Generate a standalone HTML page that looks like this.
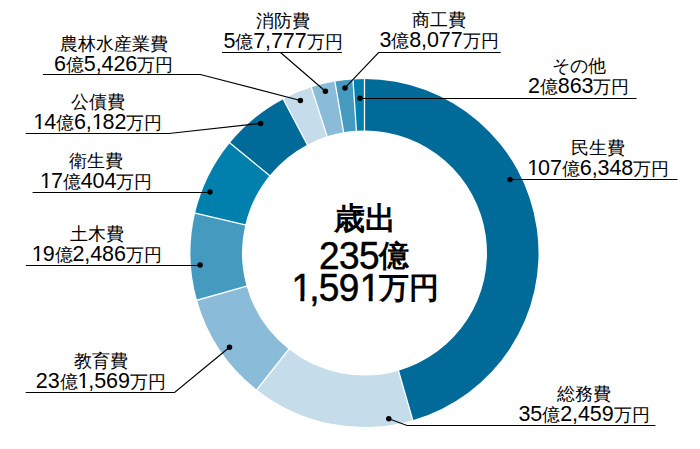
<!DOCTYPE html>
<html lang="ja">
<head>
<meta charset="utf-8">
<style>
html,body{margin:0;padding:0;background:#fff;}
body{width:700px;height:449px;position:relative;overflow:hidden;font-family:"Liberation Sans",sans-serif;color:#000;}
svg{position:absolute;left:0;top:0;}
.lb{position:absolute;width:200px;text-align:center;white-space:nowrap;}
.lb .t{font-size:17.5px;line-height:21px;height:21px;}
.lb .n{font-size:17.5px;line-height:21px;height:21px;}
.lb .n b{font-weight:normal;font-size:21.5px;letter-spacing:-0.1px;line-height:0;}
.lb .o{margin-right:-1px;}
.o{clip-path:polygon(-0.3em -0.3em,0.9em -0.3em,0.9em 0.775em,0.345em 0.775em,0.345em 1.4em,0.24em 1.4em,0.24em 0.775em,-0.3em 0.775em);}
.ctr{position:absolute;left:264px;width:200px;text-align:center;white-space:nowrap;font-weight:bold;}
.ctr b{display:inline-block;transform:scaleY(1.04);transform-origin:50% 84.65%;font-weight:normal;font-size:37px;line-height:1;position:relative;top:3px;letter-spacing:-0.6px;-webkit-text-stroke:0.5px #000;}
</style>
</head>
<body>
<svg width="700" height="449" viewBox="0 0 700 449">
<path fill="#006a99" d="M364.50 79.00A174 174 0 0 1 412.75 420.18L398.47 370.70A122.5 122.5 0 0 0 364.50 130.50Z"/>
<path fill="#c5dcea" d="M412.75 420.18A174 174 0 0 1 256.90 389.74L288.74 349.27A122.5 122.5 0 0 0 398.47 370.70Z"/>
<path fill="#8abbd9" d="M256.90 389.74A174 174 0 0 1 197.03 300.23L246.60 286.25A122.5 122.5 0 0 0 288.74 349.27Z"/>
<path fill="#449bbf" d="M197.03 300.23A174 174 0 0 1 195.13 213.12L245.26 224.92A122.5 122.5 0 0 0 246.60 286.25Z"/>
<path fill="#0180ad" d="M195.13 213.12A174 174 0 0 1 229.76 142.91L269.64 175.49A122.5 122.5 0 0 0 245.26 224.92Z"/>
<path fill="#006a99" d="M229.76 142.91A174 174 0 0 1 283.21 99.15L307.27 144.69A122.5 122.5 0 0 0 269.64 175.49Z"/>
<path fill="#c5dcea" d="M283.21 99.15A174 174 0 0 1 311.31 87.33L327.05 136.36A122.5 122.5 0 0 0 307.27 144.69Z"/>
<path fill="#8abbd9" d="M311.31 87.33A174 174 0 0 1 334.88 81.54L343.65 132.29A122.5 122.5 0 0 0 327.05 136.36Z"/>
<path fill="#449bbf" d="M334.88 81.54A174 174 0 0 1 352.97 79.38L356.38 130.77A122.5 122.5 0 0 0 343.65 132.29Z"/>
<path fill="#0180ad" d="M352.97 79.38A174 174 0 0 1 364.50 79.00L364.50 130.50A122.5 122.5 0 0 0 356.38 130.77Z"/>
<path stroke="#fff" stroke-width="1.3" d="M364.50 131.50L364.50 78.00M398.19 369.73L413.03 421.14M289.36 348.48L256.28 390.52M247.56 285.98L196.07 300.50M246.23 225.15L194.16 212.89M270.41 176.13L228.98 142.28M307.74 145.57L282.75 98.27M327.36 137.32L311.00 86.38M343.82 133.27L334.71 80.55M356.45 131.77L352.90 78.38"/>
<g fill="none" stroke="#000" stroke-width="1.15">
<path d="M510 179.5H677.4"/>
<path d="M388.8 418.8L407 425.5H655.4"/>
<path d="M229.5 347.3L174.6 392.5H25.7"/>
<path d="M200.1 265.5H26"/>
<path d="M210 192.5H32.6"/>
<path d="M260.6 123.4L168.9 133.5H25.7"/>
<path d="M300.4 100.5L200.3 74.5H42.9"/>
<path d="M325.4 91.2L280.5 52.5M222 52.5H341.9"/>
<path d="M345 87.9L378.6 52.5H500.7"/>
<path d="M360 98.5H636.5"/>
</g>
<g fill="#000">
<circle cx="510" cy="179.5" r="2.75"/>
<circle cx="388.8" cy="418.8" r="2.75"/>
<circle cx="229.5" cy="347.3" r="2.75"/>
<circle cx="200.1" cy="265.1" r="2.75"/>
<circle cx="210" cy="192" r="2.75"/>
<circle cx="260.6" cy="123.4" r="2.75"/>
<circle cx="300.4" cy="100.5" r="2.75"/>
<circle cx="325.4" cy="91.2" r="2.75"/>
<circle cx="345" cy="87.9" r="2.75"/>
<circle cx="360" cy="98.3" r="2.75"/>
</g>
</svg>
<div class="lb" style="left:498.2px;top:138.0px"><div class="t">民生費</div><div class="n"><b><span class="o">1</span>07</b>億<b>6,348</b>万円</div></div>
<div class="lb" style="left:484.0px;top:384.0px"><div class="t">総務費</div><div class="n"><b>35</b>億<b>2,459</b>万円</div></div>
<div class="lb" style="left:0.8px;top:351.0px"><div class="t">教育費</div><div class="n"><b>23</b>億<b><span class="o">1</span>,569</b>万円</div></div>
<div class="lb" style="left:-3.2px;top:224.0px"><div class="t">土木費</div><div class="n"><b><span class="o">1</span>9</b>億<b>2,486</b>万円</div></div>
<div class="lb" style="left:-3.8px;top:151.0px"><div class="t">衛生費</div><div class="n"><b><span class="o">1</span>7</b>億<b>404</b>万円</div></div>
<div class="lb" style="left:-2.2px;top:92.0px"><div class="t">公債費</div><div class="n"><b><span class="o">1</span>4</b>億<b>6,<span class="o">1</span>82</b>万円</div></div>
<div class="lb" style="left:13.6px;top:34.0px"><div class="t">農林水産業費</div><div class="n"><b>6</b>億<b>5,426</b>万円</div></div>
<div class="lb" style="left:183.0px;top:11.0px"><div class="t">消防費</div><div class="n"><b>5</b>億<b>7,777</b>万円</div></div>
<div class="lb" style="left:339.0px;top:10.0px"><div class="t">商工費</div><div class="n"><b>3</b>億<b>8,077</b>万円</div></div>
<div class="lb" style="left:478.7px;top:56.0px"><div class="t">その他</div><div class="n"><b>2</b>億<b>863</b>万円</div></div>
<div class="ctr" style="top:200.5px;font-size:31px;line-height:36px;left:265px">歳出</div>
<div class="ctr" style="top:235px;font-size:30px;line-height:32px"><b>235</b>億</div>
<div class="ctr" style="top:267px;font-size:30px;line-height:32px"><b><span class="o" style="position:relative;left:2.4px">1</span>,59<span class="o" style="position:relative;left:1px">1</span></b>万円</div>
</body>
</html>
